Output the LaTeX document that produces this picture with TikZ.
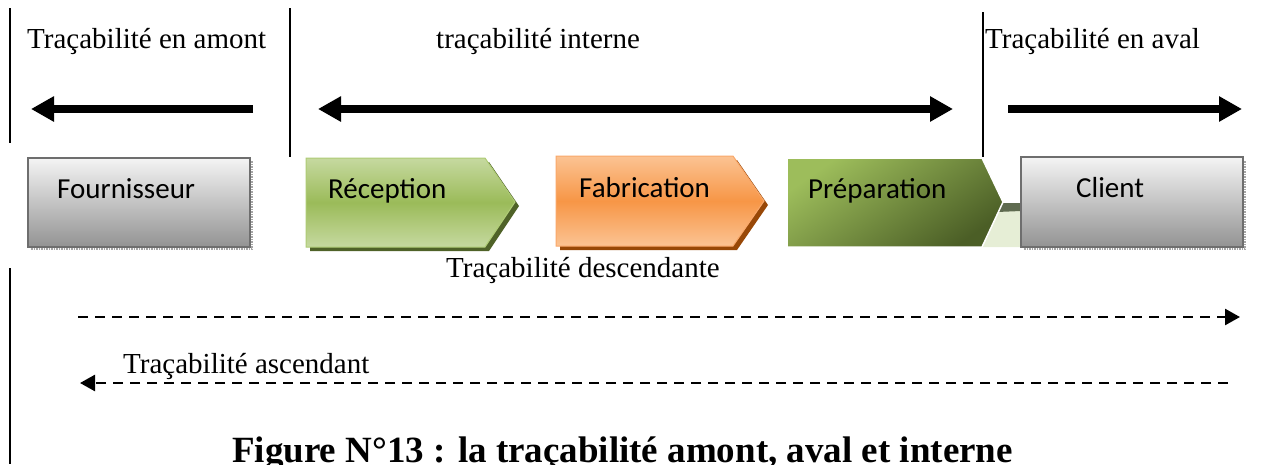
\documentclass[tikz,border=0pt]{standalone}
\usepackage{fontspec}
\setmainfont{Liberation Serif}
\newfontfamily\boxfont{Carlito}
\usetikzlibrary{arrows.meta}

\definecolor{greylight}{HTML}{F4F4F4}
\definecolor{greydark}{HTML}{939393}
\definecolor{greyedge}{HTML}{6E6E6E}
\definecolor{greenlight}{HTML}{C6D9A0}
\definecolor{greenmid}{HTML}{9BBB59}
\definecolor{greenedge}{HTML}{AECB74}
\definecolor{greenshadow}{HTML}{4F6228}
\definecolor{orangelight}{HTML}{FBC393}
\definecolor{orangemid}{HTML}{F79646}
\definecolor{orangeedge}{HTML}{F9A86A}
\definecolor{orangeshadow}{HTML}{984807}
\definecolor{olivelight}{HTML}{9DBD5B}
\definecolor{olivedark}{HTML}{4B5E26}
\definecolor{paleface}{HTML}{E6EED6}
\definecolor{paleband}{HTML}{5F6B50}

\begin{document}
\begin{tikzpicture}[x=1pt,y=-1pt,
  txt/.style={anchor=base west, inner sep=0pt, font=\fontsize{29}{35}\selectfont},
  boxtxt/.style={anchor=base west, inner sep=0pt, font=\boxfont\fontsize{29}{35}\selectfont},
  caption/.style={anchor=base west, inner sep=0pt, font=\bfseries\fontsize{37}{43}\selectfont},
  divider/.style={line width=1.6pt},
  bigarrow/.style={line width=8pt, -{Triangle[length=23pt,width=24pt]}},
  bigboth/.style={line width=8pt, {Triangle[length=23pt,width=24pt]}-{Triangle[length=23pt,width=24pt]}},
  flow/.style={line width=2.6pt, dash pattern=on 10pt off 7pt, -{Triangle[length=15pt,width=16pt]}},
  greybox/.style={draw=greyedge, line width=2pt, top color=greylight, bottom color=greydark},
  boxshadow/.style={draw=black!35, line width=1.5pt, densely dotted},
]
\useasboundingbox (0,0) rectangle (1263,464);
\clip (0,0) rectangle (1263,464);

% section dividers
\draw[divider] (10,8) -- (10,143);
\draw[divider] (290,8) -- (290,157);
\draw[divider] (983,12) -- (983,157);
\draw[divider] (10,268) -- (10,464);

% section titles
\node[txt] (amont)   at (27,48)  {Traçabilité en amont};
\node[txt] (interne) at (436,48) {traçabilité interne};
\node[txt] (aval)    at (985,48) {Traçabilité en aval};

% direction arrows
\coordinate (amA) at (253,109);
\coordinate (amB) at (31,109);
\coordinate (inA) at (318,109);
\coordinate (inB) at (953,109);
\coordinate (avA) at (1008,109);
\coordinate (avB) at (1242,109);
\draw[bigarrow] (amA) -- (amB);
\draw[bigboth]  (inA) -- (inB);
\draw[bigarrow] (avA) -- (avB);

% supplier box
\draw[boxshadow] (31,249) -- (252,249) -- (252,161);
\path[greybox] (28,158) rectangle (250,247);
\node[boxtxt] (fournisseur) at (57,198) {Fournisseur};

% reception step
\fill[greenshadow] (310,162) -- (489,162) -- (519,206) -- (489,251) -- (310,251) -- cycle;
\path[draw=greenedge, line width=1pt, top color=greenlight, bottom color=greenlight, middle color=greenmid]
  (306,158) -- (485,158) -- (515,202) -- (485,247) -- (306,247) -- cycle;
\node[boxtxt] (reception) at (328,198) {Réception};

% manufacturing step
\fill[orangeshadow] (560,160) -- (737,160) -- (768,205) -- (737,250) -- (560,250) -- cycle;
\path[draw=orangeedge, line width=1pt, top color=orangelight, bottom color=orangelight, middle color=orangemid]
  (556,156) -- (733,156) -- (764,201) -- (733,246) -- (556,246) -- cycle;
\node[boxtxt] (fabrication) at (579,197) {Fabrication};

% preparation step with its bevel
\fill[paleface] (998,210) -- (1021,210) -- (1021,247) -- (974,247) -- cycle;
\fill[paleband] (1003,203) -- (1021,203) -- (1021,211) -- (997,212) -- cycle;
\path[draw=white, line width=1.5pt, top color=olivelight, bottom color=olivedark, shading angle=35]
  (787,158) -- (982,158) -- (1003,202) -- (982,247) -- (787,247) -- cycle;
\node[boxtxt] (preparation) at (808,198) {Préparation};

% customer box
\draw[boxshadow] (1024,249) -- (1245,249) -- (1245,160);
\path[greybox] (1021,157) rectangle (1243,247);
\node[boxtxt] (client) at (1076,197) {Client};

% downstream / upstream flows
\node[txt] (descendante) at (446,277) {Traçabilité descendante};
\coordinate (dsA) at (78,317);
\coordinate (dsB) at (1240,317);
\draw[flow] (dsA) -- (dsB);

\node[txt] (ascendant) at (123,373) {Traçabilité ascendant};
\coordinate (asA) at (1228,383);
\coordinate (asB) at (80,383);
\draw[flow] (asA) -- (asB);

% figure caption, running off the lower edge
\node[caption] (legende) at (232,462) {Figure N°13 : la traçabilité amont, aval et interne};
\end{tikzpicture}
\end{document}
